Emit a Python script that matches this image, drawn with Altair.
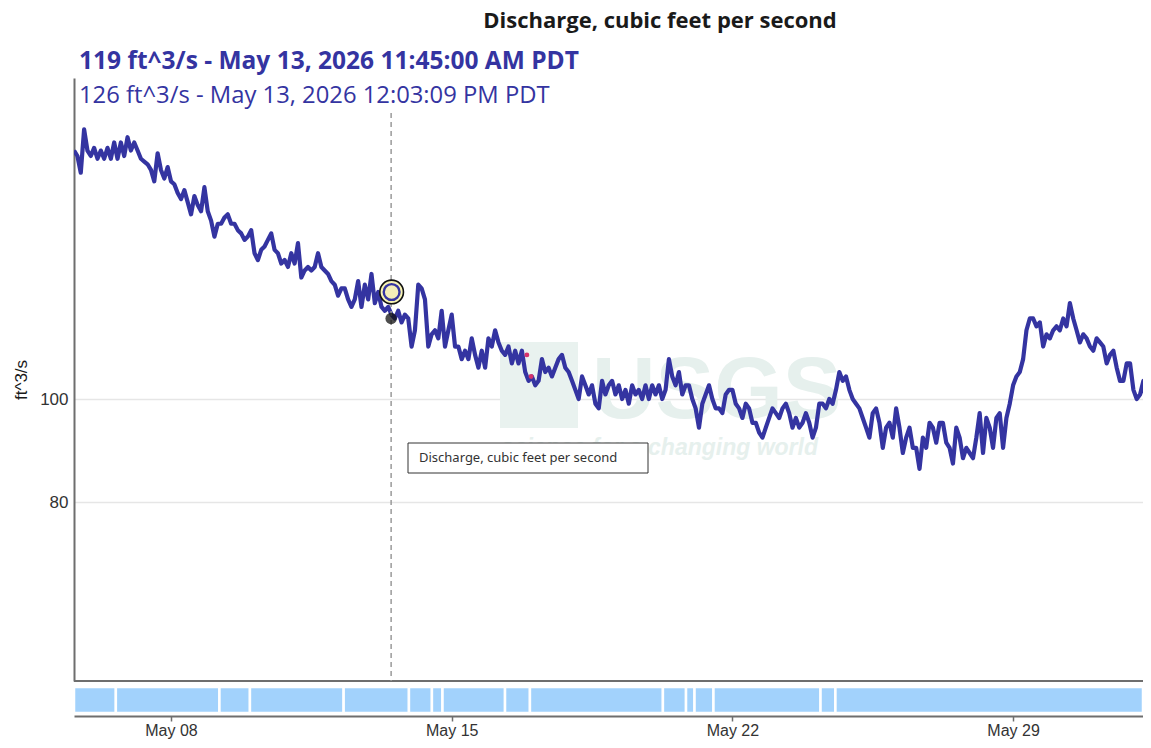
import altair as alt
import pandas as pd

# ---- data ----
flow_values = [
    171, 169, 163, 179, 171, 169, 172, 168, 171, 168,
    172, 168, 174, 168, 174, 169, 176, 171, 174, 171,
    168, 167, 166, 164, 160, 170, 164, 161, 165, 160,
    159, 156, 154, 157, 153, 149, 155, 152, 150, 158,
    150, 147, 142, 146, 146, 148, 149, 146, 146, 144,
    143, 141, 142, 144, 137, 135, 138, 139, 141, 143,
    138, 137, 134, 135, 133, 137, 134, 140, 130, 132,
    133, 132, 133, 137, 133, 132, 131, 129, 128, 125,
    127, 127, 124, 122, 124, 129, 122, 128, 124, 131,
    123, 126, 122, 121, 122, 120, 119, 121, 118, 120,
    119, 112, 116, 128, 127, 124, 112, 115, 116, 114,
    121, 112, 116, 120, 112, 112, 109, 111, 109, 114,
    110, 107, 111, 107, 114, 112, 116, 113, 111, 110,
    112, 108, 111, 108, 111, 106, 104, 105, 103, 104,
    109, 106, 107, 105, 107, 109, 110, 107, 106, 104,
    102, 100, 105, 103, 101, 103, 99, 98, 104, 101,
    103, 104, 101, 103, 100, 102, 99, 103, 101, 102,
    100, 103, 100, 103, 101, 103, 100, 102, 109, 105,
    103, 106, 101, 103, 103, 100, 98, 94, 99, 101,
    103, 100, 98, 98, 97, 101, 102, 102, 99, 98,
    96, 99, 98, 95, 95, 93, 92, 94, 96, 98,
    97, 96, 98, 99, 97, 94, 96, 94, 95, 97,
    95, 92, 94, 99, 99, 98, 100, 99, 102, 106,
    104, 105, 102, 100, 99, 98, 96, 94, 92, 97,
    98, 95, 90, 94, 95, 92, 98, 94, 89, 92,
    94, 90, 90, 86, 92, 90, 95, 94, 91, 95,
    95, 91, 90, 87, 94, 92, 88, 90, 89, 88,
    92, 97, 89, 96, 94, 90, 96, 97, 90, 96,
    99, 103, 105, 106, 109, 116, 119, 119, 117, 118,
    112, 115, 114, 116, 117, 116, 119, 117, 123, 119,
    116, 113, 115, 114, 112, 111, 114, 113, 112, 108,
    110, 111, 107, 104, 104, 108, 108, 102, 100, 101,
    104, 98, 92, 90,
]
series_start = "2026-05-05 14:00"
series_step = "2h"

tick_dates = [(2026, 5, 8), (2026, 5, 15), (2026, 5, 22), (2026, 5, 29)]
y_ticks = [80, 100]

strip_edges = [
    "2026-05-05T13:57", "2026-05-06T15:00", "2026-05-09T05:00", "2026-05-09T23:15",
    "2026-05-12T07:20", "2026-05-13T22:25", "2026-05-14T12:10", "2026-05-14T18:30",
    "2026-05-16T07:55", "2026-05-16T22:50", "2026-05-20T06:25", "2026-05-20T20:15",
    "2026-05-21T01:20", "2026-05-21T12:40", "2026-05-24T04:45", "2026-05-24T13:40",
    "2026-06-01T05:45",
]

cursor_time = ["2026-05-13T11:45:00"]
latest_point = {"time": ["2026-05-13T12:03:09"], "flow": [126]}
hover_point = {"time": ["2026-05-13T11:45:00"], "flow": [119]}
flag_points = {"time": ["2026-05-16T21:00:00", "2026-05-16T23:30:00"], "flow": [110, 105]}

title_text = "Discharge, cubic feet per second"
line1_text = "119 ft^3/s - May 13, 2026 11:45:00 AM PDT"
line2_text = "126 ft^3/s - May 13, 2026 12:03:09 PM PDT"
y_title = "ft^3/s"
tooltip_text = "Discharge, cubic feet per second"

# ---- tables ----
df = pd.DataFrame({
    "time": pd.date_range(series_start, periods=len(flow_values), freq=series_step),
    "flow": flow_values,
})
strip_df = pd.DataFrame({"time": strip_edges[:-1], "time2": strip_edges[1:]})
cursor_df = pd.DataFrame({"time": cursor_time})
latest_df = pd.DataFrame(latest_point)
hover_df = pd.DataFrame(hover_point)
flag_df = pd.DataFrame(flag_points)
one = pd.DataFrame({"d": [0]})

W, H = 1069, 603
LINE_COLOR = "#3434a1"
AXIS_GRAY = "#6e6e6e"

xscale = alt.Scale(
    domain=[alt.DateTime(year=2026, month=5, date=5, hours=13, minutes=57),
            alt.DateTime(year=2026, month=6, date=1, hours=5, minutes=45)],
    nice=False,
)
xaxis = alt.Axis(
    values=[alt.DateTime(year=y, month=m, date=d) for (y, m, d) in tick_dates],
    format="%b %d", title=None, grid=False, offset=35,
    domainColor=AXIS_GRAY, domainWidth=2, tickColor=AXIS_GRAY, tickWidth=1.5,
    tickSize=5, labelFont="Liberation Sans", labelFontSize=16, labelColor="#333333",
    labelPadding=1, labelFlush=False,
)
yscale = alt.Scale(type="log", domain=[54.4, 200], nice=False)
yaxis = alt.Axis(
    values=y_ticks, format="d", title=None, ticks=False, labelPadding=6,
    domainColor=AXIS_GRAY, domainWidth=2, labelFont="Liberation Sans",
    labelFontSize=17, labelColor="#333333", gridColor="#e6e6e6", gridWidth=1.5,
)

X = alt.X("time:T", scale=xscale, axis=xaxis)
Y = alt.Y("flow:Q", scale=yscale, axis=yaxis)

WM = "#e6f0ed"
wm_box = alt.Chart(one).mark_rect(fill="#e9f2ef").encode(
    x=alt.value(426), x2=alt.value(504), y=alt.value(264), y2=alt.value(350))
wm_text = alt.Chart(one).mark_text(
    text="USGS", font="Liberation Sans", fontWeight="bold",
    fontSize=88, align="left", baseline="alphabetic", color=WM).encode(
    x=alt.value(518), y=alt.value(340))
wm_sub = alt.Chart(one).mark_text(
    text="science for a changing world", font="Liberation Sans", fontWeight="bold",
    fontStyle="italic", fontSize=23, align="right", baseline="alphabetic",
    color=WM).encode(x=alt.value(744), y=alt.value(377))

line = alt.Chart(df).mark_line(
    color=LINE_COLOR, strokeWidth=4.2, clip=True, strokeJoin="round").encode(x=X, y=Y)

bottom_rule = alt.Chart(one).mark_rule(color=AXIS_GRAY, strokeWidth=2).encode(
    x=alt.value(0), x2=alt.value(W), y=alt.value(H))

strip = alt.Chart(strip_df).mark_rect(
    fill="#a2d2fc", stroke="white", strokeWidth=2.5).encode(
    x=X, x2="time2:T", y=alt.value(609), y2=alt.value(635))

cursor = alt.Chart(cursor_df).mark_rule(
    color="#9a9a9a", strokeWidth=1.5, strokeDash=[5, 4]).encode(
    x=X, y=alt.value(35), y2=alt.value(H))

flags = alt.Chart(flag_df).mark_point(
    filled=True, color="#d6336c", size=24, opacity=1).encode(x=X, y=Y)

hover = alt.Chart(hover_df).mark_point(
    filled=True, color="#111111", size=130, opacity=0.75).encode(x=X, y=Y)

latest_outer = alt.Chart(latest_df).mark_point(
    filled=False, fill="#f7f3b5", fillOpacity=1, stroke="#111111", strokeWidth=1.6,
    size=560, opacity=1).encode(x=X, y=Y)
latest_inner = alt.Chart(latest_df).mark_point(
    filled=False, fill="#f3eeb8", fillOpacity=1, stroke=LINE_COLOR, strokeWidth=2.4,
    size=250, opacity=1).encode(x=X, y=Y)

tip_box = alt.Chart(one).mark_rect(fill="white", stroke="#333333", strokeWidth=1).encode(
    x=alt.value(334), x2=alt.value(574), y=alt.value(365), y2=alt.value(395))
tip_text = alt.Chart(one).mark_text(
    text=tooltip_text, font="Noto Sans", fontSize=13, align="left", baseline="middle",
    color="#333333").encode(x=alt.value(345), y=alt.value(380))

title = alt.Chart(one).mark_text(
    text=title_text, font="Open Sans", fontWeight="bold", fontSize=22, align="center",
    baseline="middle", color="#1a1a1a").encode(x=alt.value(586), y=alt.value(-57))
line1 = alt.Chart(one).mark_text(
    text=line1_text, font="Open Sans", fontWeight="bold", fontSize=24.5, align="left",
    baseline="middle", color="#3434a1").encode(x=alt.value(5), y=alt.value(-16))
line2 = alt.Chart(one).mark_text(
    text=line2_text, font="Open Sans", fontSize=23.8, align="left",
    baseline="middle", color="#3434a1").encode(x=alt.value(5), y=alt.value(18))
ytitle = alt.Chart(one).mark_text(
    text=y_title, font="Liberation Sans", fontSize=17, angle=270, align="center",
    baseline="middle", color="#1a1a1a").encode(x=alt.value(-52), y=alt.value(302))

chart = alt.layer(
    wm_box, wm_text, wm_sub, line, bottom_rule, strip, cursor, flags, hover,
    latest_outer, latest_inner, tip_box, tip_text, title, line1, line2, ytitle,
).properties(
    width=W, height=H,
    autosize=alt.AutoSizeParams(type="none"),
    padding={"left": 66, "top": 70, "right": 0, "bottom": 58},
).configure_view(stroke=None)

chart.save("out.html", embed_options={"renderer": "svg", "actions": False})
